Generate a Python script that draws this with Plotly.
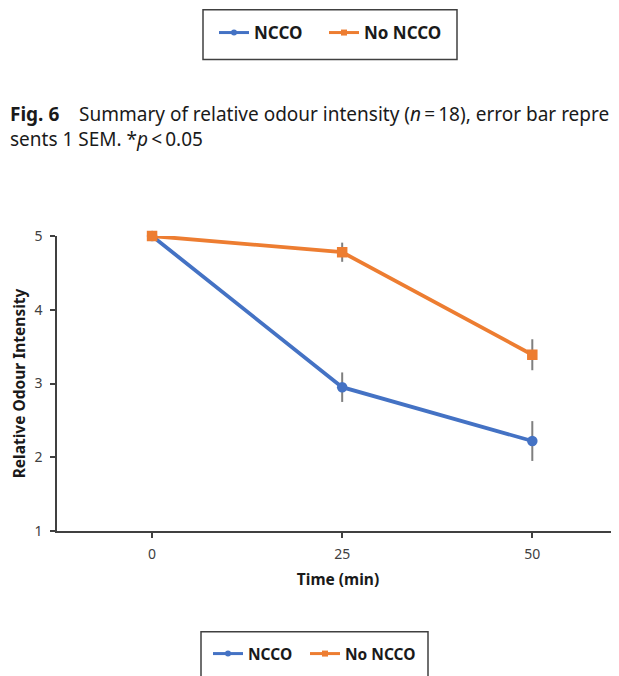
import plotly.graph_objects as go

times = [0, 25, 50]
ncco = [5.0, 2.95, 2.22]
ncco_sem = [0.0, 0.20, 0.27]
no_ncco = [5.0, 4.78, 3.39]
no_ncco_sem = [0.0, 0.13, 0.21]
series_names = ["NCCO", "No NCCO"]
colors = ["#4472C4", "#ED7D31"]
y_ticks = [1, 2, 3, 4, 5]

W, H = 619, 676
OFF = 8  # page body margin
L, R, T, B = 49, 8, 227, 153
PW, PH = W - L - R, H - T - B


def px2x(wx):
    return (wx - OFF - L) / PW


def px2y(wy):
    return (H - B - (wy - OFF)) / PH


fig = go.Figure()
for name, vals, sem, col, sym in [
    (series_names[0], ncco, ncco_sem, colors[0], "circle"),
    (series_names[1], no_ncco, no_ncco_sem, colors[1], "square"),
]:
    fig.add_trace(go.Scatter(
        x=times, y=vals, name=name, mode="lines+markers",
        line=dict(color=col, width=3.8),
        marker=dict(color=col, symbol=sym, size=10.5),
        error_y=dict(type="data", array=sem, visible=True, color="#7f7f7f", thickness=2, width=0),
        showlegend=False, cliponaxis=False,
    ))

# one legend per entry: (top NCCO, top No NCCO, bottom NCCO, bottom No NCCO)
legend_ids = ["legend", "legend2", "legend3", "legend4"]
entries = [(0, "circle"), (1, "square"), (0, "circle"), (1, "square")]
for lg, (i, sym) in zip(legend_ids, entries):
    fig.add_trace(go.Scatter(
        x=[None], y=[None], name=series_names[i], mode="lines+markers",
        line=dict(color=colors[i], width=3),
        marker=dict(color=colors[i], symbol=sym, size=6),
        legend=lg,
    ))


def legend_box(wx, wy, size):
    return dict(
        orientation="h", x=px2x(wx), y=px2y(wy), xanchor="left", yanchor="top",
        font=dict(size=size, color="#1a1a1a", family="Noto Sans", weight="bold"),
        bgcolor="rgba(0,0,0,0)", borderwidth=0, itemwidth=30,
    )


fig.update_layout(
    width=W, height=H,
    margin=dict(l=L, r=R, t=T, b=B, pad=0),
    paper_bgcolor="white", plot_bgcolor="white",
    font=dict(family="Noto Sans", color="#262626"),
    xaxis=dict(
        range=[-12.5, 61.4], tickvals=times, ticktext=[str(t) for t in times],
        showgrid=False, zeroline=False, showline=True, linecolor="#404040", linewidth=1.5,
        ticks="outside", ticklen=5, tickcolor="#404040", tickwidth=1.5,
        tickfont=dict(size=14, color="#404040"), ticklabelstandoff=4,
        title=dict(text="Time (min)", font=dict(size=15.5, color="#1a1a1a", weight="bold"), standoff=13),
        automargin=False,
    ),
    yaxis=dict(
        range=[1, 5], tickvals=y_ticks,
        showgrid=False, zeroline=False, showline=True, linecolor="#404040", linewidth=1.5,
        ticks="outside", ticklen=5, tickcolor="#404040", tickwidth=1.5,
        tickfont=dict(size=14, color="#404040"), ticklabelstandoff=5,
        title=dict(text="Relative Odour Intensity", font=dict(size=15.5, color="#1a1a1a", weight="bold"), standoff=6),
        automargin=False,
    ),
    legend=legend_box(214, 15, 17),
    legend2=legend_box(324, 15, 17),
    legend3=legend_box(208, 637, 15.5),
    legend4=legend_box(305, 637, 15.5),
    shapes=[
        dict(type="rect", xref="paper", yref="paper", x0=px2x(203), x1=px2x(457), y0=px2y(58), y1=px2y(8),
             line=dict(color="#404040", width=1.5), fillcolor="rgba(0,0,0,0)", layer="above"),
        dict(type="rect", xref="paper", yref="paper", x0=px2x(201), x1=px2x(428), y0=px2y(700), y1=px2y(632),
             line=dict(color="#404040", width=1.5), fillcolor="rgba(0,0,0,0)", layer="above"),
    ],
    annotations=[
        dict(xref="paper", yref="paper", x=px2x(8), y=px2y(98), xanchor="left", yanchor="top",
             align="left", showarrow=False,
             text="<b>Fig. 6</b>" + "\u00a0" * 4 + "Summary of relative odour intensity (<i>n</i>\u2009=\u200918), error bar repre<br>sents 1 SEM. *<i>p</i>\u2009<\u20090.05",
             font=dict(size=19, color="#1a1a1a", family="Noto Sans")),
    ],
)

fig.write_html("out.html")
